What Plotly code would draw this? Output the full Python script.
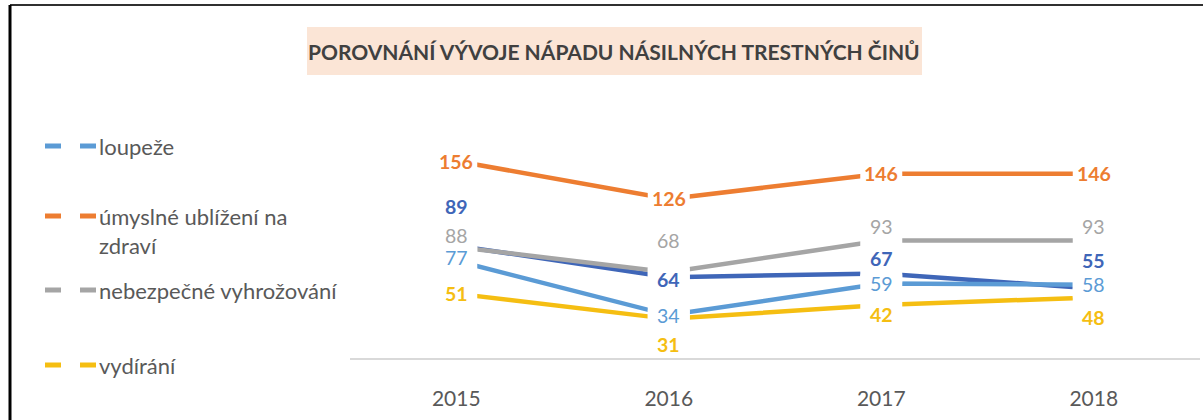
import plotly.graph_objects as go

# ---------------- data ----------------
years = ["2015", "2016", "2017", "2018"]
loupeze = [77, 34, 59, 58]
ublizeni = [156, 126, 146, 146]
vyhrozovani = [88, 68, 93, 93]
vydirani = [51, 31, 42, 48]
ostatni = [89, 64, 67, 55]          # dark blue series without legend entry

legend_names = ["loupeže", "úmyslné ublížení na<br>zdraví", "nebezpečné vyhrožování", "vydírání"]
title_text = "POROVNÁNÍ VÝVOJE NÁPADU NÁSILNÝCH TRESTNÝCH ČINŮ"

# ---------------- styles ----------------
C_LB = "#5B9BD5"
C_OR = "#ED7D31"
C_GR = "#A5A5A5"
C_YE = "#F5BE12"
C_DB = "#3F66B8"
FONT = "Lato"
TXT = "#595959"

series = [
    # values, colour, label bold, label yshifts (px)
    (ostatni, C_DB, True, [39, -2, 15, 28]),
    (vyhrozovani, C_GR, False, [11, 32, 14, 14]),
    (loupeze, C_LB, False, [3, 0, 0, 0]),
    (vydirani, C_YE, True, [0, -26, -10, -20]),
    (ublizeni, C_OR, True, [0, 0, 0, 0]),
]
legend_colors = [C_LB, C_OR, C_GR, C_YE]
legend_y = [146, 216, 290, 365]

W, H = 1203, 420
L, R, T, B = 350, 3, 156, 62
PW, PH = W - L - R, H - T - B


def px(x):
    return (x - L) / PW


def py(y):
    return (H - B - y) / PH


fig = go.Figure()
for vals, col, bold, shifts in series:
    fig.add_trace(go.Scatter(x=years, y=vals, mode="lines",
                             line=dict(color=col, width=4.5),
                             showlegend=False, hoverinfo="skip"))

annotations = []
shapes = []
# white boxes (above the lines) that interrupt the lines around each data point
for vals, col, bold, shifts in series:
    for i, yv in enumerate(vals):
        shapes.append(dict(type="rect", xref="x", yref="y",
                           xsizemode="pixel", ysizemode="pixel",
                           xanchor=i, yanchor=yv, x0=-21, x1=21, y0=-9, y1=9,
                           fillcolor="white", line=dict(width=0), layer="above"))
# data labels
for vals, col, bold, shifts in series:
    for i, (yv, s) in enumerate(zip(vals, shifts)):
        annotations.append(dict(x=i, y=yv, xref="x", yref="y", text=str(yv),
                                showarrow=False, yshift=s,
                                font=dict(family=FONT, size=19.5, color=col,
                                          weight="bold" if bold else "normal")))

# title
annotations.append(dict(x=px(614), y=py(51), xref="paper", yref="paper",
                        text=title_text, showarrow=False,
                        xanchor="center", yanchor="middle",
                        font=dict(family=FONT, size=21, color="#404040", weight="bold")))

shapes += [
    dict(type="rect", xref="paper", yref="paper", x0=px(307), x1=px(922),
         y0=py(75), y1=py(27), fillcolor="#FBE5D6", line=dict(width=0), layer="below"),
    dict(type="line", xref="paper", yref="paper", x0=px(10), x1=px(1203),
         y0=py(5), y1=py(5), line=dict(color="#303030", width=2)),
    dict(type="line", xref="paper", yref="paper", x0=px(10), x1=px(10),
         y0=py(5), y1=py(420), line=dict(color="black", width=3)),
]

# manual legend
for name, col, ly in zip(legend_names, legend_colors, legend_y):
    for x0, x1 in [(45, 61), (80, 96)]:
        shapes.append(dict(type="line", xref="paper", yref="paper",
                           x0=px(x0), x1=px(x1), y0=py(ly), y1=py(ly),
                           line=dict(color=col, width=5)))
    annotations.append(dict(x=px(97), y=py(ly - 15), xref="paper", yref="paper",
                            text=name, showarrow=False, align="left",
                            xanchor="left", yanchor="top",
                            font=dict(family=FONT, size=22, color=TXT)))

fig.update_layout(
    width=W, height=H,
    margin=dict(l=L, r=R, t=T, b=B),
    paper_bgcolor="white", plot_bgcolor="white",
    showlegend=False,
    xaxis=dict(type="category", range=[-0.5, 3.5], showgrid=False,
               showline=True, linecolor="#D9D9D9", linewidth=2,
               ticks="", ticklen=0, zeroline=False, ticklabelstandoff=21,
               tickfont=dict(family=FONT, size=21, color=TXT)),
    yaxis=dict(range=[0, 160], showgrid=False, showticklabels=False,
               zeroline=False, showline=False),
    annotations=annotations,
    shapes=shapes,
)

fig.write_html("out.html", config={"displayModeBar": False},
               post_script="document.body.style.margin='0px';")
